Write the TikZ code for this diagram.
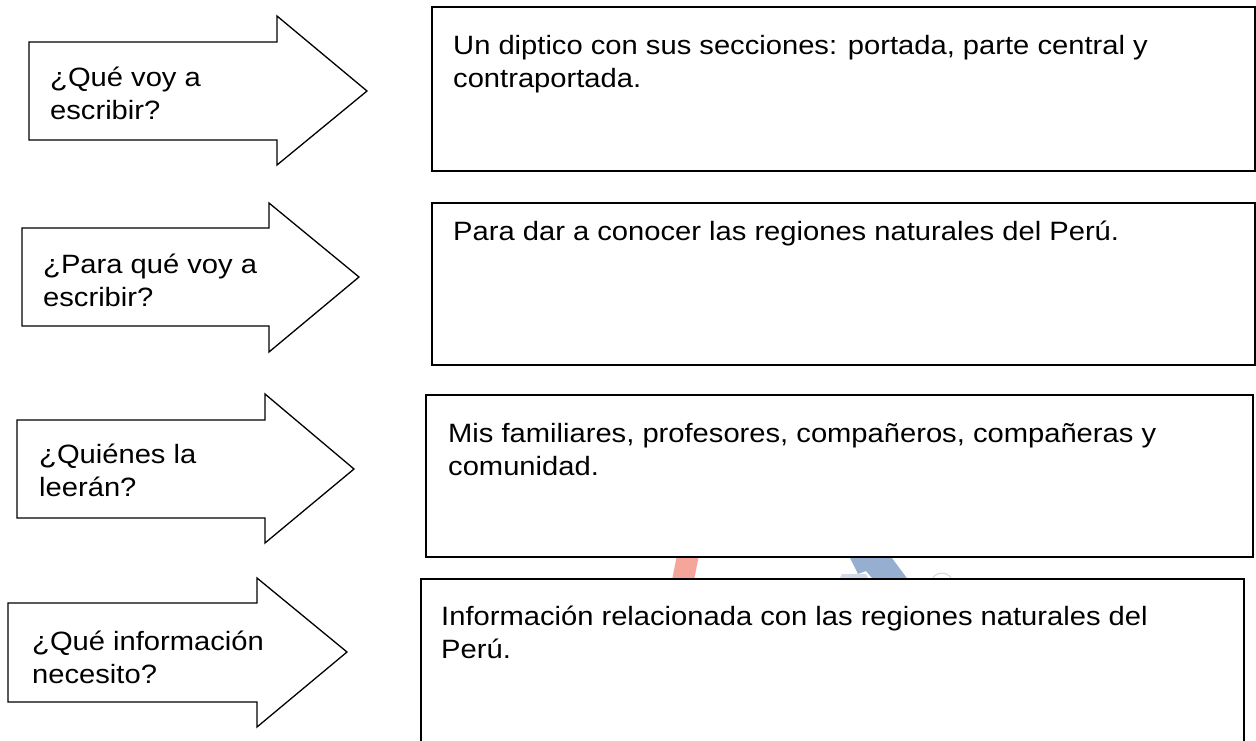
\documentclass[tikz,border=0pt]{standalone}
\usepackage{fontspec}
\setmainfont{Liberation Sans}[FakeStretch=1.1]
\definecolor{wmred}{RGB}{246,165,155}
\definecolor{wmblue}{RGB}{150,175,208}
\definecolor{wmgrey}{RGB}{215,215,215}
\newcommand{\mylines}[2]{\vtop{\baselineskip=33pt\hbox{#1}\hbox{#2}}}
\begin{document}
\begin{tikzpicture}[x=1pt,y=-1pt,
  arrowshape/.style={draw=black,line width=1.3pt,fill=white,line join=miter},
  answerbox/.style={draw=black,line width=2pt,fill=white},
  lbl/.style={anchor=base west,inner sep=0pt,font=\fontsize{26.5}{33}\selectfont,text=black}]
\useasboundingbox (0,0) rectangle (1256,740);
\clip (0,0) rectangle (1256,740);
\fill[white] (0,0) rectangle (1256,740);
% faint background watermark (mostly hidden behind the boxes)
\fill[wmred] (678,550) -- (700,550) -- (693,585) -- (671,585) -- cycle;
\fill[wmblue] (846,550) -- (886,550) -- (912,585) -- (878,585) -- (866,571) -- (858,574) -- cycle;
\fill[wmblue!45] (836,585) -- (842,574) -- (866,574) -- (872,585) -- cycle;
\draw[wmgrey,line width=1pt] (942,584) circle (11);
% arrows
\draw[arrowshape] (29,42) -- (277,42) -- (277,16) -- (367,91) -- (277,165) -- (277,140) -- (29,140) -- cycle;
\draw[arrowshape] (22,228) -- (269,228) -- (269,203) -- (359,277) -- (269,352) -- (269,326) -- (22,326) -- cycle;
\draw[arrowshape] (17,420) -- (265,420) -- (265,394) -- (354,469) -- (265,543) -- (265,518) -- (17,518) -- cycle;
\draw[arrowshape] (8,603) -- (257,603) -- (257,578) -- (347,652) -- (257,727) -- (257,702) -- (8,702) -- cycle;
% boxes
\draw[answerbox] (432,7) rectangle (1255,171);
\draw[answerbox] (432,203) rectangle (1255,365);
\draw[answerbox] (426,395) rectangle (1253,557);
\draw[answerbox] (421,579) rectangle (1244,760);
% arrow texts
\node[lbl] (q1) at (50,86) {\mylines{¿Qué voy a}{escribir?}};
\node[lbl] (q2) at (43,273) {\mylines{¿Para qué voy a}{escribir?}};
\node[lbl] (q3) at (39,463) {\mylines{¿Quiénes la}{leerán?}};
\node[lbl] (q4) at (32,650) {\mylines{¿Qué información}{necesito?}};
% box texts
\node[lbl] (a1) at (453,54) {\mylines{Un diptico con sus secciones: portada, parte central y}{contraportada.}};
\node[lbl] (a2) at (453,240) {Para dar a conocer las regiones naturales del Perú.};
\node[lbl] (a3) at (448,442) {\mylines{Mis familiares, profesores, compañeros, compañeras y}{comunidad.}};
\node[lbl] (a4) at (441,625) {\mylines{Información relacionada con las regiones naturales del}{Perú.}};
\end{tikzpicture}
\end{document}
